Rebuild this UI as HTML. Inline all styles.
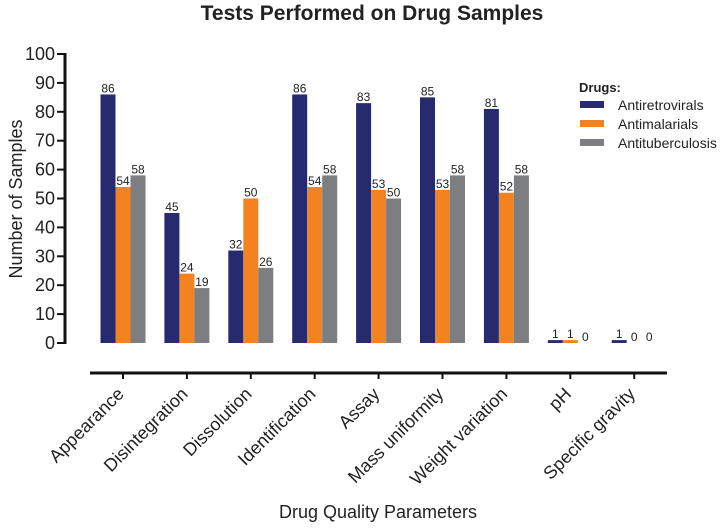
<!DOCTYPE html>
<html><head><meta charset="utf-8"><style>
body{margin:0;background:#fff;font-family:"Liberation Sans",Arial,sans-serif}
svg text{font-family:"Liberation Sans",Arial,sans-serif}
</style></head><body>
<svg id="c" width="723" height="526" viewBox="0 0 723 526">
<text x="372" y="20" text-anchor="middle" font-size="21" font-weight="bold" fill="#222">Tests Performed on Drug Samples</text>
<text transform="translate(22,199) rotate(-90)" text-anchor="middle" font-size="18" fill="#222">Number of Samples</text>
<text x="378" y="518" text-anchor="middle" font-size="18" fill="#222">Drug Quality Parameters</text>
<g id="axes"></g><g id="bars"></g>
<g>
<text x="579" y="92" font-size="13" font-weight="bold" fill="#222">Drugs:</text>
<rect x="580" y="101" width="24" height="7" fill="#282a70"/>
<text x="618" y="110" font-size="14" fill="#222">Antiretrovirals</text>
<rect x="580" y="120" width="24" height="7" fill="#f5821f"/>
<text x="618" y="129" font-size="14" fill="#222">Antimalarials</text>
<rect x="580" y="139" width="24" height="7" fill="#7d7e82"/>
<text x="618" y="148" font-size="14" fill="#222">Antituberculosis</text>
</g>
</svg>
<script>
const categories=["Appearance","Disintegration","Dissolution","Identification","Assay","Mass uniformity","Weight variation","pH","Specific gravity"];
const antiretrovirals=[86,45,32,86,83,85,81,1,1];
const antimalarials=[54,24,50,54,53,53,52,1,0];
const antituberculosis=[58,19,26,58,50,58,58,0,0];
const yTicks=[0,10,20,30,40,50,60,70,80,90,100];
const NS="http://www.w3.org/2000/svg";
const y=v=>343-v*2.89;
const xc=i=>123+i*63.9;
function mk(tag,attrs,parent,txt){const e=document.createElementNS(NS,tag);for(const k in attrs)e.setAttribute(k,attrs[k]);if(txt!==undefined)e.textContent=txt;parent.appendChild(e);return e;}
const ax=document.getElementById('axes'),bg=document.getElementById('bars');
let l=mk('line',{x1:65,y1:y(100)-1,x2:65,y2:y(0)+1,stroke:'#111','stroke-width':3},ax);


yTicks.forEach(t=>{
 let tk=mk('line',{x1:57,x2:65,y1:y(t),y2:y(t),stroke:'#111','stroke-width':2},ax);
 
 
 let tl=mk('text',{x:55,y:y(t)+6,'text-anchor':'end','font-size':18,fill:'#222'},ax,t);
 
 
});
let xa=mk('line',{x1:90,x2:667,y1:373,y2:373,stroke:'#111','stroke-width':3},ax);


const series=[[antiretrovirals,'#282a70','antiretrovirals'],[antimalarials,'#f5821f','antimalarials'],[antituberculosis,'#7d7e82','antituberculosis']];
categories.forEach((c,i)=>{
 const cx=xc(i);
 let tk=mk('line',{x1:cx,x2:cx,y1:373,y2:379,stroke:'#111','stroke-width':2},ax);
 
 
 let tl=mk('text',{x:cx+2,y:395,'text-anchor':'end','font-size':18,fill:'#222',transform:`rotate(-45 ${cx+2} 395)`},ax,c);
 
 
 series.forEach((s,j)=>{
  const v=s[0][i];const x0=cx-22.5+j*15;
  if(v>0){
   let r=mk('rect',{x:x0,y:y(v),width:15,height:Math.max(y(0)-y(v),2),fill:s[1]},bg);
   
   
  }
  let vl=mk('text',{x:x0+7.5,y:y(v)-2,'text-anchor':'middle','font-size':12,fill:'#222'},bg,v);
  
  
 });
});
</script>
</body></html>
